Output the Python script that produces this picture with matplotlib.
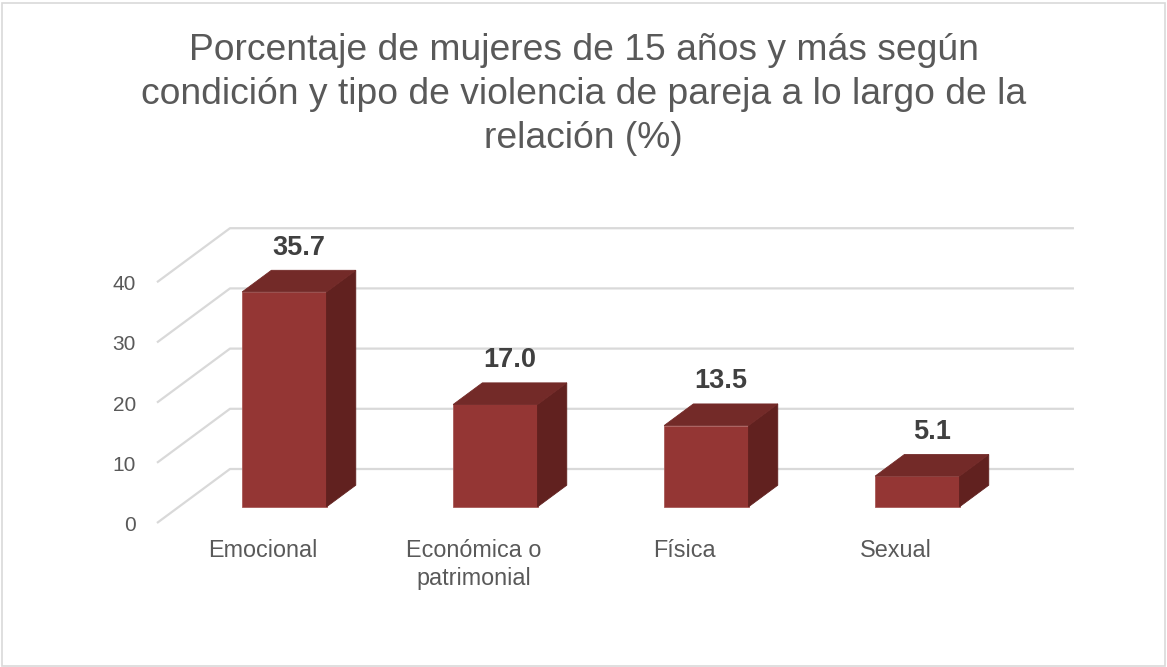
import matplotlib.pyplot as plt
from matplotlib.patches import Polygon, Rectangle

# data
categories = ["Emocional", "Económica o\npatrimonial", "Física", "Sexual"]
values = [35.7, 17.0, 13.5, 5.1]
y_ticks = [0, 10, 20, 30, 40]
title = ("Porcentaje de mujeres de 15 años y más según\n"
         "condición y tipo de violencia de pareja a lo largo de la\n"
         "relación (%)")

plt.rcParams['font.family'] = ['Liberation Sans', 'DejaVu Sans']

# oblique 3D look: depth vector in data units
ddx, ddy = 0.346, 8.97
bar_w = 0.40
z_front, z_back = 0.3, 0.7

front_col = "#943634"
top_col = "#732a28"
side_col = "#61211f"
grid_col = "#d9d9d9"

fig = plt.figure(figsize=(11.67, 6.67), dpi=100)
ax = fig.add_axes([0, 0, 1, 1])
ax.set_xlim(-1.244, 4.287)
ax.set_ylim(-23.92, 86.88)
ax.axis("off")

n = len(categories)

# gridlines: slanted side wall + back wall
for t in y_ticks:
    ax.plot([-0.5, -0.5 + ddx, n - 0.5 + ddx], [t, t + ddy, t + ddy],
            color=grid_col, lw=1.6, zorder=1, solid_capstyle="butt")
    ax.text(-0.6, t - 0.4, str(t), ha="right", va="center", fontsize=15, color="#595959")

# bars
for i, v in enumerate(values):
    x0 = i - bar_w / 2 + z_front * ddx
    y0 = z_front * ddy
    dx = (z_back - z_front) * ddx
    dy = (z_back - z_front) * ddy
    ax.add_patch(Rectangle((x0, y0), bar_w, v, facecolor=front_col,
                           edgecolor="#a85a58", lw=0.6, zorder=3))
    ax.add_patch(Polygon([(x0 + bar_w, y0), (x0 + bar_w + dx, y0 + dy),
                          (x0 + bar_w + dx, y0 + dy + v), (x0 + bar_w, y0 + v)],
                         closed=True, facecolor=side_col, edgecolor=side_col,
                         lw=0.6, zorder=3))
    ax.add_patch(Polygon([(x0, y0 + v), (x0 + bar_w, y0 + v),
                          (x0 + bar_w + dx, y0 + v + dy), (x0 + dx, y0 + v + dy)],
                         closed=True, facecolor=top_col, edgecolor=top_col,
                         lw=0.6, zorder=3))
    ax.text(i + 0.5 * ddx, v + z_back * ddy + 1.6, f"{v:.1f}",
            ha="center", va="bottom", fontsize=19.5, fontweight="bold", color="#404040")
    ax.text(i, -2.6, categories[i], ha="center", va="top", fontsize=16.8,
            color="#595959", linespacing=1.3)

fig.text(0.5, 0.95, title, ha="center", va="top", fontsize=26.8,
         color="#595959", linespacing=1.33)

fig.add_artist(Rectangle((0.002, 0.002), 0.996, 0.994, transform=fig.transFigure,
                         fill=False, edgecolor="#d9d9d9", lw=1.2))

fig.savefig("out.png", dpi=100)
